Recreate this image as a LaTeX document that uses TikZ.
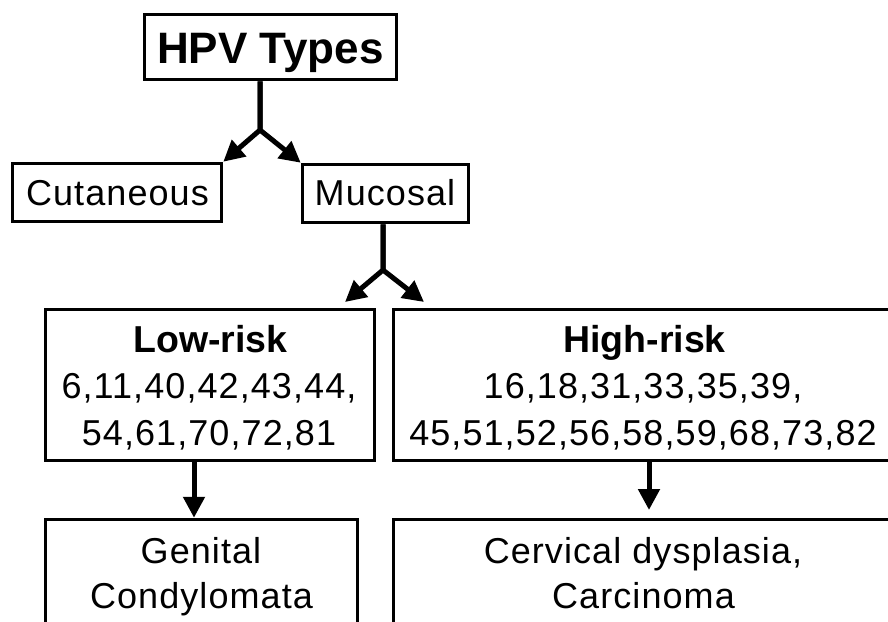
\documentclass[tikz,border=0pt]{standalone}
\usepackage{fontspec}
\setmainfont{Liberation Sans}
\newfontfamily\spaced[LetterSpace=3]{Liberation Sans}
\usetikzlibrary{arrows.meta}
\begin{document}
\begin{tikzpicture}[x=1pt,y=-1pt,
  box/.style={draw, line width=3.5pt, inner sep=0pt, rectangle},
  txt/.style={anchor=base, inner sep=0pt, font=\spaced\fontsize{36}{43}\selectfont},
  head/.style={anchor=base, inner sep=0pt, font=\bfseries\fontsize{37.5}{45}\selectfont},
  title/.style={anchor=base, inner sep=0pt, font=\bfseries\fontsize{44}{52}\selectfont},
  link/.style={line width=5pt, line join=miter, -{Triangle[length=21pt,width=21pt]}}]
\clip (0,0) rectangle (888,621);
\fill[white] (0,0) rectangle (888,621);

% boxes
\node[box, minimum width=252pt, minimum height=65pt] (hpv) at (270.5,47) {};
\node[box, minimum width=209pt, minimum height=58pt] (cut) at (117,192.5) {};
\node[box, minimum width=166pt, minimum height=58pt] (muc) at (385.5,193.5) {};
\node[box, minimum width=329pt, minimum height=151pt] (low) at (210,385) {};
\node[box, minimum width=506.5pt, minimum height=151pt] (high) at (646.75,385) {};
\node[box, minimum width=312pt, minimum height=120.5pt] (gen) at (201.5,579.75) {};
\node[box, minimum width=506.5pt, minimum height=120.5pt] (cerv) at (646.75,579.75) {};

% labels
\node[title] (thpv) at (270.5,63) {HPV Types};
\node[txt] (tcut) at (117.5,205) {Cutaneous};
\node[txt] (tmuc) at (385,205) {Mucosal};
\node[head] (tlow) at (210.5,352) {Low-risk};
\node[txt] (tlow1) at (209,398) {6,11,40,42,43,44,};
\node[txt] (tlow2) at (209,445) {54,61,70,72,81};
\node[head] (thigh) at (644.5,352) {High-risk};
\node[txt] (thigh1) at (643,398) {16,18,31,33,35,39,};
\node[txt] (thigh2) at (643,445) {45,51,52,56,58,59,68,73,82};
\node[txt] (tgen1) at (201,563) {Genital};
\node[txt] (tgen2) at (201.5,608) {Condylomata};
\node[txt] (tcerv1) at (643,563) {Cervical dysplasia,};
\node[txt] (tcerv2) at (643.5,608) {Carcinoma};

% branching connectors
\coordinate (j1) at (260,130);
\draw[link] (hpv.south -| j1) -- (j1) -- (cut.north east);
\draw[link] (hpv.south -| j1) -- (j1) -- (muc.north west);

\coordinate (j2) at (383,270);
\coordinate (t1) at (345,302);
\coordinate (t2) at (424,302);
\draw[link] (muc.south -| j2) -- (j2) -- (t1);
\draw[link] (muc.south -| j2) -- (j2) -- (t2);

% straight connectors
\coordinate (x1) at (194,517);
\coordinate (x2) at (649,510);
\draw[link] (low.south -| x1) -- (gen.north -| x1);
\draw[link] (high.south -| x2) -- (x2);
\end{tikzpicture}
\end{document}
